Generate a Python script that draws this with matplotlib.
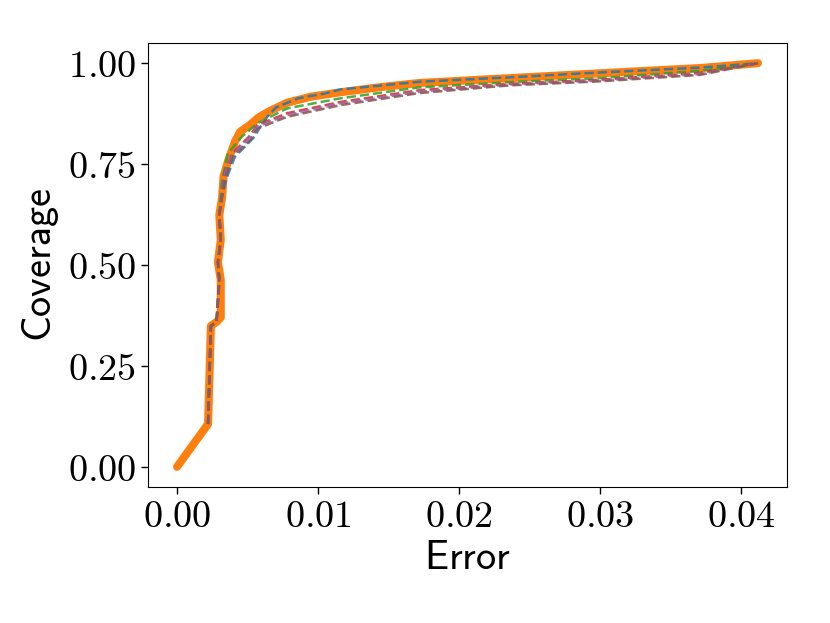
import matplotlib
matplotlib.use("Agg")
import matplotlib.pyplot as plt

plt.rcParams['mathtext.fontset'] = 'cm'
plt.rcParams['axes.unicode_minus'] = False

# Orange (thick solid) series
err_orange = [0.0, 0.0022, 0.0024, 0.0028, 0.0031, 0.0031, 0.0029, 0.0031, 0.0030,
              0.0032, 0.0033, 0.00364, 0.0041, 0.00447, 0.0052, 0.0058, 0.0066,
              0.0078, 0.0095, 0.0116, 0.0145, 0.0172, 0.0236, 0.0300, 0.0371, 0.0412]
cov_orange = [0.0, 0.106, 0.349, 0.359, 0.370, 0.463, 0.507, 0.562, 0.624,
              0.669, 0.720, 0.760, 0.805, 0.830, 0.848, 0.866, 0.882,
              0.902, 0.917, 0.928, 0.941, 0.951, 0.963, 0.975, 0.988, 1.0]

# Dashed series
err_blue = [0.0022, 0.0024, 0.0028, 0.0030, 0.0029, 0.0031, 0.0030, 0.0032, 0.0034,
            0.00364, 0.0041, 0.0048, 0.0055, 0.0059, 0.0064, 0.0070, 0.0086,
            0.0105, 0.0116, 0.0172, 0.0236, 0.0300, 0.0371, 0.0412]
cov_blue = [0.106, 0.349, 0.359, 0.463, 0.507, 0.562, 0.624, 0.673, 0.700,
            0.727, 0.768, 0.793, 0.818, 0.842, 0.867, 0.890, 0.913,
            0.925, 0.935, 0.954, 0.965, 0.977, 0.989, 1.0]

err_green = [0.0022, 0.0024, 0.0028, 0.0030, 0.0029, 0.0031, 0.0030, 0.0031, 0.0032,
             0.0036, 0.0046, 0.0057, 0.0078, 0.0116, 0.0172, 0.0236, 0.0300,
             0.0371, 0.0412]
cov_green = [0.106, 0.349, 0.359, 0.463, 0.507, 0.562, 0.624, 0.670, 0.710,
             0.776, 0.818, 0.851, 0.888, 0.913, 0.940, 0.953, 0.963,
             0.981, 1.0]

err_red = [0.0022, 0.0024, 0.0028, 0.0030, 0.0029, 0.0031, 0.0030, 0.0032, 0.0033,
           0.0039, 0.0051, 0.0057, 0.0078, 0.0116, 0.0172, 0.0236, 0.0300,
           0.0371, 0.0412]
cov_red = [0.106, 0.349, 0.359, 0.463, 0.507, 0.562, 0.624, 0.673, 0.720,
           0.776, 0.818, 0.847, 0.876, 0.904, 0.933, 0.949, 0.959,
           0.976, 1.0]

err_purple = [0.0022, 0.0024, 0.0028, 0.0030, 0.0029, 0.0031, 0.0030, 0.0032, 0.0033,
              0.0039, 0.0051, 0.0057, 0.0078, 0.0116, 0.0172, 0.0236, 0.0300,
              0.0371, 0.0412]
cov_purple = [0.106, 0.349, 0.359, 0.463, 0.507, 0.562, 0.624, 0.673, 0.718,
              0.772, 0.814, 0.843, 0.871, 0.900, 0.929, 0.947, 0.957,
              0.973, 1.0]

err_brown = [0.0022, 0.0024, 0.0028, 0.0030, 0.0029, 0.0031, 0.0030, 0.0032, 0.0034,
             0.0040, 0.0052, 0.0057, 0.0078, 0.0116, 0.0172, 0.0236, 0.0300,
             0.0371, 0.0412]
cov_brown = [0.106, 0.349, 0.359, 0.463, 0.507, 0.562, 0.624, 0.673, 0.716,
             0.770, 0.810, 0.838, 0.867, 0.896, 0.926, 0.945, 0.955,
             0.971, 1.0]

xticks = [0.00, 0.01, 0.02, 0.03, 0.04]
xtick_labels = ["$0.00$", "$0.01$", "$0.02$", "$0.03$", "$0.04$"]
yticks = [0.00, 0.25, 0.50, 0.75, 1.00]
ytick_labels = ["$0.00$", "$0.25$", "$0.50$", "$0.75$", "$1.00$"]

fig = plt.figure(figsize=(8.3, 6.23), dpi=100)
ax = fig.add_axes([148/830, 1 - 487/623, (787-148)/830, (487-43)/623])

ax.plot(err_orange, cov_orange, color='#ff7f0e', lw=5.8, solid_capstyle='round',
        solid_joinstyle='round', zorder=2)
dashed = [(err_blue, cov_blue, '#1f77b4'),
          (err_green, cov_green, '#2ca02c'),
          (err_red, cov_red, '#d62728'),
          (err_purple, cov_purple, '#9467bd'),
          (err_brown, cov_brown, '#8c564b')]
for e, c, col in dashed:
    ax.plot(e, c, color=col, lw=1.8, ls='--', zorder=3, alpha=0.85)

ax.set_xticks(xticks)
ax.set_xticklabels(xtick_labels, fontsize=27.5)
ax.set_yticks(yticks)
ax.set_yticklabels(ytick_labels, fontsize=27.5)
ax.tick_params(length=5, width=1)
ax.set_xlabel(r"$\mathsf{Error}$", fontsize=29, labelpad=2)
ax.set_ylabel(r"$\mathsf{Coverage}$", fontsize=29, labelpad=5)
ax.margins(0.05)

fig.savefig("out.png", dpi=100)
